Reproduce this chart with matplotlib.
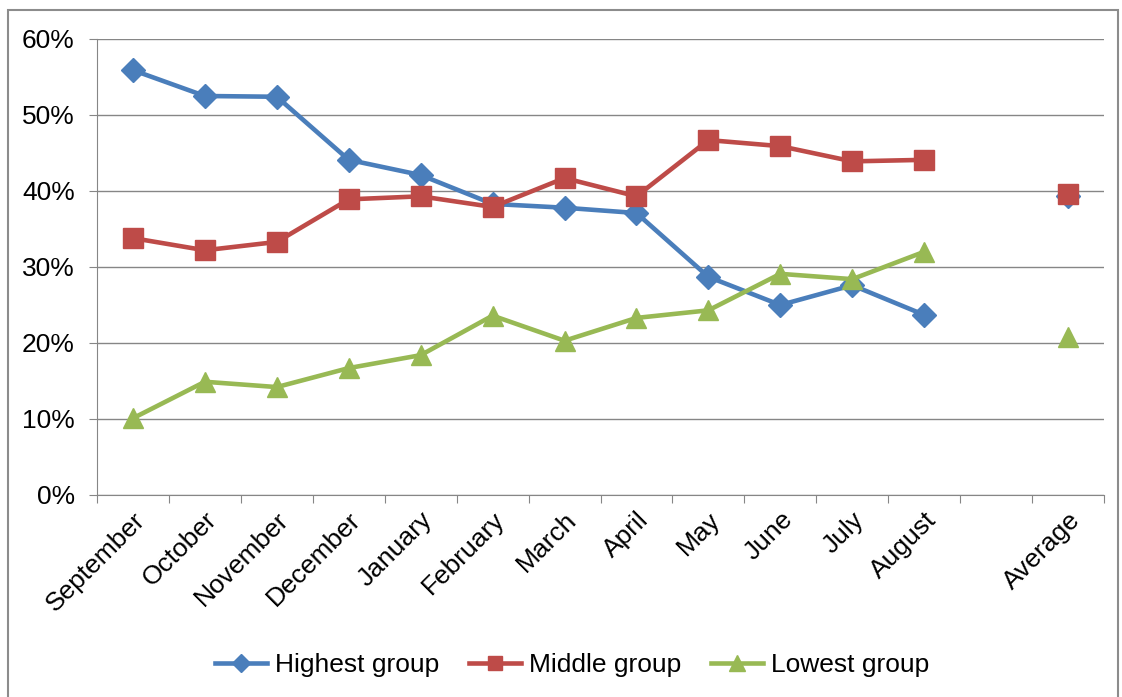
import numpy as np
import matplotlib.pyplot as plt
from matplotlib.patches import Rectangle
from matplotlib.ticker import PercentFormatter

plt.rcParams['font.family'] = ['Liberation Sans', 'DejaVu Sans']

# categories (blank slot before the average column)
months = ['September', 'October', 'November', 'December', 'January', 'February',
          'March', 'April', 'May', 'June', 'July', 'August', '', 'Average']

highest = [55.9, 52.5, 52.4, 44.1, 42.1, 38.3, 37.8, 37.1, 28.7, 25.0, 27.6, 23.7]
middle = [33.8, 32.2, 33.3, 38.9, 39.3, 37.9, 41.7, 39.3, 46.7, 45.9, 43.9, 44.1]
lowest = [10.1, 14.9, 14.2, 16.7, 18.4, 23.6, 20.3, 23.3, 24.3, 29.1, 28.4, 32.0]
avg_highest = 39.3
avg_middle = 39.6
avg_lowest = 20.8

blue = '#4A7EBB'
red = '#BE4B48'
green = '#98B954'

fig = plt.figure(figsize=(11.22, 6.97), dpi=100)
ax = fig.add_axes([97 / 1122, 1 - 495 / 697, (1104 - 97) / 1122, (495 - 39) / 697])

x = np.arange(len(months))
xm = x[:12]
avg_x = x[13]

series = [(highest, avg_highest, blue, 'D', 12, 'Highest group'),
          (middle, avg_middle, red, 's', 14, 'Middle group'),
          (lowest, avg_lowest, green, '^', 15, 'Lowest group')]
for vals, avg, col, mk, ms, lab in series:
    ax.plot(xm, vals, color=col, lw=3.3, marker=mk, ms=ms, label=lab, zorder=3)
    ax.plot([avg_x], [avg], color=col, marker=mk, ms=ms, ls='none', zorder=3)

ax.set_xlim(-0.5, len(months) - 0.5)
ax.set_ylim(0, 60)
ax.set_yticks(np.arange(0, 61, 10))
ax.yaxis.set_major_formatter(PercentFormatter(decimals=0))
ax.grid(axis='y', color='#868686', lw=1)
ax.set_axisbelow(True)

# ticks sit between categories, labels at category centres
ax.set_xticks(np.arange(-0.5, len(months), 1))
ax.set_xticklabels([])
ax.set_xticks(x, minor=True)
ax.set_xticklabels(months, minor=True, rotation=45, ha='right',
                   rotation_mode='anchor', fontsize=19)
ax.tick_params(axis='x', which='minor', length=0, pad=9)
ax.tick_params(axis='x', which='major', length=6, color='#868686')
ax.tick_params(axis='y', length=6, color='#868686', labelsize=19, pad=10)

for side in ['top', 'right']:
    ax.spines[side].set_visible(False)
for side in ['left', 'bottom']:
    ax.spines[side].set_color('#868686')

fig.legend(loc='center', bbox_to_anchor=(572 / 1122, 1 - 665 / 697), ncol=3,
           frameon=False, fontsize=19, handlelength=2.0, columnspacing=1.1,
           handletextpad=0.3, markerscale=0.75)

# outer chart frame
fig.patches.append(Rectangle((8 / 1122, -0.05), (1118 - 8) / 1122, 1.05 - 10 / 697,
                             transform=fig.transFigure, fill=False,
                             edgecolor='#8c8c8c', lw=1.5))

fig.savefig('out.png', dpi=100)
